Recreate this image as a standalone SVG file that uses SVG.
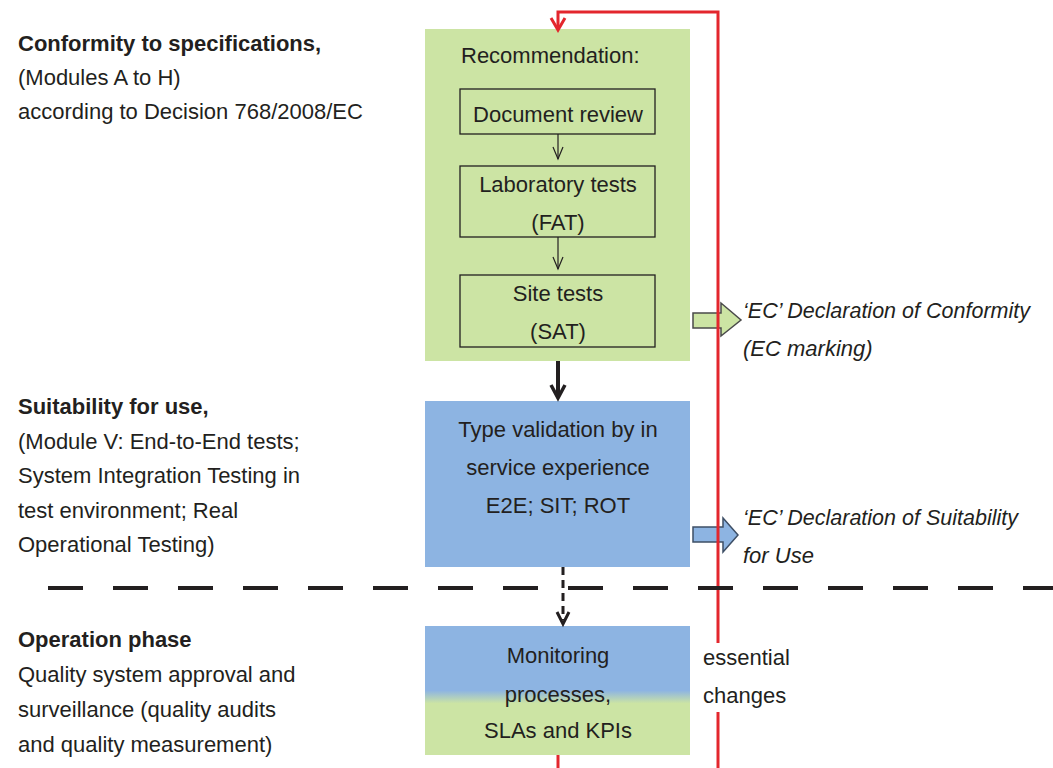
<svg xmlns="http://www.w3.org/2000/svg" width="1053" height="768" viewBox="0 0 1053 768">
<style>
text{font-family:"Liberation Sans",Arial,sans-serif;font-size:22px;fill:#231f20}
.b{font-weight:bold}
.i{font-style:italic}
.c{text-anchor:middle}
.inner{fill:none;stroke:#231f20;stroke-width:1.3}
.thin{fill:none;stroke:#231f20;stroke-width:1.2}
.red{fill:none;stroke:#e3262d;stroke-width:3}
</style>
<defs>
<linearGradient id="mon" x1="0" y1="0" x2="0" y2="1">
<stop offset="0" stop-color="#8db4e2"/>
<stop offset="0.5" stop-color="#8db4e2"/>
<stop offset="0.6" stop-color="#cce4a4"/>
<stop offset="1" stop-color="#cce4a4"/>
</linearGradient>
</defs>
<rect width="1053" height="768" fill="#ffffff"/>

<g id="label-conformity">
<text x="18" y="51" class="b">Conformity to specifications,</text>
<text x="18" y="85">(Modules A to H)</text>
<text x="18" y="119">according to Decision 768/2008/EC</text>
</g>
<g id="label-suitability">
<text x="18" y="414" class="b">Suitability for use,</text>
<text x="18" y="449">(Module V: End-to-End tests;</text>
<text x="18" y="483">System Integration Testing in</text>
<text x="18" y="518">test environment; Real</text>
<text x="18" y="552">Operational Testing)</text>
</g>
<g id="label-operation">
<text x="18" y="647" class="b">Operation phase</text>
<text x="18" y="682">Quality system approval and</text>
<text x="18" y="717">surveillance (quality audits</text>
<text x="18" y="752">and quality measurement)</text>
</g>

<g id="recommendation">
<rect x="425" y="29" width="265" height="332" fill="#cce4a4"/>
<text x="461" y="63">Recommendation:</text>
</g>
<g id="document-review">
<rect x="460" y="89" width="195" height="45" class="inner"/>
<text x="558" y="122" class="c">Document review</text>
</g>
<g id="laboratory-tests">
<rect x="460" y="166" width="195" height="71" class="inner"/>
<text x="558" y="192" class="c">Laboratory tests</text>
<text x="558" y="230" class="c">(FAT)</text>
</g>
<g id="site-tests">
<rect x="460" y="275" width="195" height="72" class="inner"/>
<text x="558" y="301" class="c">Site tests</text>
<text x="558" y="339" class="c">(SAT)</text>
</g>
<g id="type-validation">
<rect x="425" y="401" width="265" height="166" fill="#8db4e2"/>
<text x="558" y="437" class="c">Type validation by in</text>
<text x="558" y="475" class="c">service experience</text>
<text x="558" y="513" class="c">E2E; SIT; ROT</text>
</g>
<g id="monitoring">
<rect x="425" y="626" width="265" height="129" fill="url(#mon)"/>
<text x="558" y="663" class="c">Monitoring</text>
<text x="558" y="702" class="c">processes,</text>
<text x="558" y="738" class="c">SLAs and KPIs</text>
</g>
<g id="ec-conformity">
<path d="M693,313 H721 V303 L741,320 L721,336 V328 H693 Z" fill="#cce4a4" stroke="#4a4a4a" stroke-width="1.5"/>
<text x="743" y="318" class="i" textLength="287" lengthAdjust="spacingAndGlyphs">&#8216;EC&#8217; Declaration of Conformity</text>
<text x="743" y="356" class="i">(EC marking)</text>
</g>
<g id="ec-suitability">
<path d="M693,527 H723 V518 L738,535 L723,552 V542 H693 Z" fill="#8db4e2" stroke="#3e4f66" stroke-width="1.5"/>
<text x="743" y="525" class="i" textLength="275" lengthAdjust="spacingAndGlyphs">&#8216;EC&#8217; Declaration of Suitability</text>
<text x="743" y="563" class="i">for Use</text>
</g>
<g id="essential-changes">
<text x="703" y="665">essential</text>
<text x="703" y="703">changes</text>
</g>

<g id="connectors">
<line x1="558" y1="134" x2="558" y2="159" class="thin"/>
<polyline points="553,147 558,159 563,147" class="thin"/>
<line x1="558" y1="237" x2="558" y2="269" class="thin"/>
<polyline points="553,257 558,269 563,257" class="thin"/>
<line x1="558" y1="361" x2="558" y2="397" stroke="#231f20" stroke-width="4"/>
<polyline points="551,385 558,398 565,385" fill="none" stroke="#231f20" stroke-width="3.5"/>
<line x1="563" y1="567" x2="563" y2="620" stroke="#231f20" stroke-width="3" stroke-dasharray="8,5"/>
<polyline points="557,612 563,624 569,612" fill="none" stroke="#231f20" stroke-width="3"/>
<path d="M558,768 V755" class="red"/>
<path d="M718,643 V12 H558 V29" class="red"/>
<path d="M718,712 V768" class="red"/>
<polyline points="551,18 558,30 565,18" class="red"/>
<line x1="48" y1="588" x2="1053" y2="588" stroke="#231f20" stroke-width="4" stroke-dasharray="35,30"/>
</g>
</svg>
